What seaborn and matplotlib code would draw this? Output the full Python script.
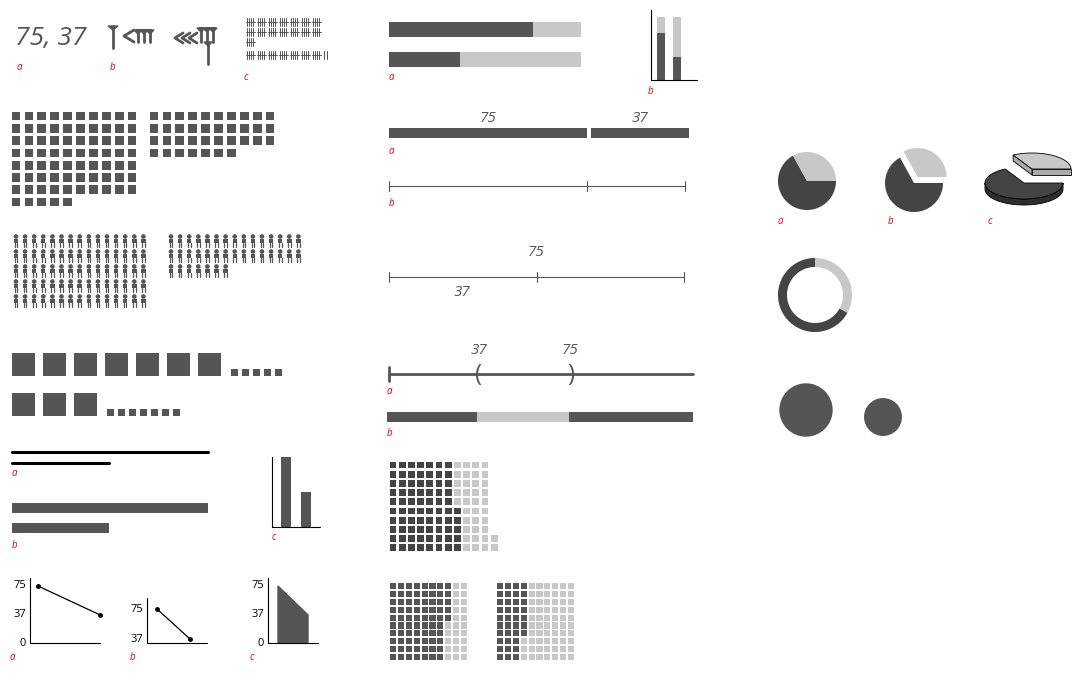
import numpy as np
import pandas as pd
import matplotlib
matplotlib.use("Agg")
import matplotlib.pyplot as plt
from matplotlib.patches import Rectangle, Wedge, Circle, Polygon
import seaborn as sns

# ---- data ----
big = 75
small = 37
values = [big, small]
pct_max = 100
tick_labels_line = ["75", "37", "0"]

sns.set_style("white")
plt.rcParams['font.family'] = ['Open Sans', 'DejaVu Sans']

DARK = "#555555"
DARK2 = "#444444"
LIGHT = "#c8c8c8"
RED = "#e8000b"

fig = plt.figure(figsize=(10.81, 6.79), dpi=100)
ax = fig.add_axes([0, 0, 1, 1])
ax.set_xlim(0, 1081)
ax.set_ylim(679, 0)
ax.axis("off")

def lab(x, y, t):
    ax.text(x, y, t, color=RED, fontsize=7, style="italic", va="center", ha="left")

def rect(x, y, w, h, c=DARK, **kw):
    ax.add_patch(Rectangle((x, y), w, h, facecolor=c, edgecolor="none", **kw))

def grid_scatter(n_items, x0, y0, ncols, dx, dy, size, colors, order="row", nrows=None, bottom_up=False):
    rows = []
    idx = 0
    for ci, (cnt, col) in enumerate(zip(n_items, colors)):
        for k in range(cnt):
            if order == "row":
                r, c = divmod(idx, ncols)
            else:
                c, r = divmod(idx, nrows)
                if bottom_up:
                    r = nrows - 1 - r
            rows.append(dict(x=x0 + c * dx, y=y0 + r * dy, g=ci))
            idx += 1
    df = pd.DataFrame(rows)
    sns.scatterplot(data=df, x="x", y="y", hue="g", palette=dict(enumerate(colors)),
                    marker="s", s=size, linewidth=0, legend=False, ax=ax)

# ---- 1a: numerals ----
ax.text(15, 38, f"{big}, {small}", fontsize=19, style="italic", color=DARK, va="center")
lab(17, 68, "a")

# ---- 1b: cuneiform-ish ----
def vwedge(x, y, h, w=5):
    ax.add_patch(Polygon([(x - w, y), (x + w, y), (x, y + 4)], color=DARK))
    ax.plot([x, x], [y, y + h], color=DARK, lw=2)
vwedge(113, 26, 22)
ax.plot([134, 124, 134], [30, 36, 42], color=DARK, lw=2)
for xx in [138, 144, 150]:
    vwedge(xx, 30, 12, 4)
rect(136, 29, 16, 3)
for xx in [175, 182, 189]:
    ax.plot([xx + 8, xx, xx + 8], [33, 38, 43], color=DARK, lw=2)
for xx in [201, 207, 213]:
    vwedge(xx, 28, 14, 4)
rect(199, 27, 17, 3)
vwedge(208, 42, 22, 4)
lab(110, 68, "b")

# ---- 1c: tallies ----
def tally_rows(x0, y0, groups_per_row, total):
    g5, rem = divmod(total, 5)
    y = y0
    gi = 0
    x = x0
    while gi < g5:
        x = x0
        for k in range(groups_per_row):
            if gi >= g5:
                break
            for j in range(4):
                ax.plot([x + j * 2.0, x + j * 2.0], [y - 4, y + 4], color=DARK, lw=0.7)
            ax.plot([x - 1.5, x + 7.5], [y, y], color=DARK, lw=0.7)
            x += 11
            gi += 1
        if gi < g5:
            y += 10
    if rem:
        for j in range(rem):
            ax.plot([x + j * 2.5, x + j * 2.5], [y - 4, y + 4], color=DARK, lw=0.7)
tally_rows(247, 22, 7, big)
tally_rows(247, 55, 7, small)
lab(244, 77, "c")

# ---- 2: square grids ----
grid_scatter([big], 16, 116, 10, 12.9, 12.3, 40, [DARK])
grid_scatter([small], 154, 116, 10, 12.9, 12.3, 40, [DARK])

# ---- 3: people ----
def people(n, x0, y0, ncols):
    for i in range(n):
        r, c = divmod(i, ncols)
        x = x0 + c * 9.1
        y = y0 + r * 15
        ax.add_patch(Circle((x, y - 3.5), 1.6, color=DARK))
        rect(x - 2.2, y - 1.5, 4.4, 4.5)
        ax.plot([x - 1.3, x - 1.3], [y + 3, y + 7], color=DARK, lw=0.9)
        ax.plot([x + 1.3, x + 1.3], [y + 3, y + 7], color=DARK, lw=0.9)
people(big, 16, 240, 15)
people(small, 171, 240, 15)

# ---- 4: tens and units blocks ----
def blocks(v, x0, y0):
    tens, units = divmod(v, 10)
    x = x0
    for i in range(tens):
        rect(x, y0, 23, 23); x += 31
    x += 2
    for i in range(units):
        rect(x, y0 + 16, 7, 7); x += 11
blocks(big, 12, 353)
blocks(small, 12, 393)

# ---- 5: lines & bars ----
scale = 196 / big
ax.plot([12, 12 + big * scale], [452, 452], color="black", lw=2.2)
ax.plot([12, 12 + small * scale], [463, 463], color="black", lw=2.2)
lab(12, 473, "a")
rect(12, 503, big * scale, 10)
rect(12, 523, small * scale, 10)
lab(12, 546, "b")
vs = 70 / big
ax.plot([272, 272, 320], [457, 527, 527], color="black", lw=0.8)
rect(281, 527 - big * vs, 10, big * vs)
rect(301, 527 - small * vs, 10, small * vs)
lab(272, 537, "c")

# ---- 6: line charts ----
def mini_axes(x0, y_base, y_top_val_px, ticks, tl, w=70):
    ax.plot([x0, x0, x0 + w], [y_top_val_px, y_base, y_base], color="black", lw=0.8)
    for t, s in zip(ticks, tl):
        ax.text(x0 - 4, t, s, fontsize=8, ha="right", va="center", color="black")
ys = 57 / big
mini_axes(30, 643, 578, [643 - big * ys, 643 - small * ys, 643], tick_labels_line)
ax.plot([38, 100], [643 - big * ys, 643 - small * ys], color="black", lw=0.9, marker="o", ms=2.5)
lab(10, 658, "a")
yb = lambda v: 639 - (v - small) * (30 / (big - small))
mini_axes(147, 643, 598, [yb(big), yb(small)], tick_labels_line[:2], w=60)
ax.plot([157, 190], [yb(big), yb(small)], color="black", lw=0.9, marker="o", ms=2.5)
lab(130, 658, "b")
mini_axes(268, 643, 578, [643 - big * ys, 643 - small * ys, 643], tick_labels_line, w=50)
ax.add_patch(Polygon([(278, 643 - big * ys), (308, 643 - small * ys), (308, 643), (278, 643)], color=DARK))
lab(250, 658, "c")

# ---- middle column ----
bw = 192 / pct_max
for y, v in zip([22, 52], values):
    rect(389, y, pct_max * bw, 15, LIGHT)
    rect(389, y, v * bw, 15, DARK)
lab(389, 77, "a")
ax.plot([651, 651, 697], [10, 80, 80], color="black", lw=0.8)
vh = 63 / pct_max
for x, v in zip([657, 673], values):
    rect(x, 17, 8, 63, LIGHT)
    rect(x, 80 - v * vh, 8, v * vh, DARK)
lab(648, 91, "b")

ps = 198 / big
rect(389, 128, big * ps, 10)
rect(389 + big * ps + 4, 128, small * ps, 10)
ax.text(389 + big * ps / 2, 118, str(big), fontsize=11, style="italic", color=DARK, ha="center", va="center")
ax.text(393 + big * ps + small * ps / 2, 118, str(small), fontsize=11, style="italic", color=DARK, ha="center", va="center")
lab(389, 151, "a")
ax.plot([389, 389 + (big + small) * ps], [186, 186], color=DARK, lw=0.8)
for v in [0, big, big + small]:
    ax.plot([389 + v * ps] * 2, [181, 191], color=DARK, lw=0.8)
lab(389, 204, "b")

ns = 295 / (2 * big)
ax.plot([389, 389 + 2 * big * ns], [277, 277], color=DARK, lw=0.8)
for v in [0, big, 2 * big]:
    ax.plot([389 + v * ns] * 2, [272, 282], color=DARK, lw=0.8)
ax.text(389 + big * ns, 253, str(big), fontsize=11, style="italic", color=DARK, ha="center", va="center")
ax.text(389 + small * ns, 293, str(small), fontsize=11, style="italic", color=DARK, ha="center", va="center")

ls = 2.42
ax.plot([389, 693], [374, 374], color=DARK, lw=2)
ax.plot([389, 389], [367, 381], color=DARK, lw=2)
ax.text(389 + small * ls, 375, "(", fontsize=17, color=DARK, ha="center", va="center")
ax.text(389 + big * ls, 375, ")", fontsize=17, color=DARK, ha="center", va="center")
ax.text(389 + small * ls, 350, str(small), fontsize=11, style="italic", color=DARK, ha="center", va="center")
ax.text(389 + big * ls, 350, str(big), fontsize=11, style="italic", color=DARK, ha="center", va="center")
lab(387, 391, "a")
rect(387, 412, 306, 10)
rect(387 + small * ls, 412, (big - small) * ls, 10, LIGHT)
lab(387, 433, "b")

# waffles
grid_scatter([big, small], 393, 465, None, 9.2, 9.2, 24, [DARK2, LIGHT], order="col", nrows=10, bottom_up=True)
grid_scatter([big, pct_max - big], 393, 586, None, 7.9, 7.9, 19, [DARK, LIGHT], order="col", nrows=10)
grid_scatter([small, pct_max - small], 500, 586, None, 7.9, 7.9, 19, [DARK, LIGHT], order="col", nrows=10)

# ---- right column: pies ----
frac = small / (big + small) * 360
for cx, cy, r, ex in [(807, 181, 29, 0), (914, 183, 29, 7)]:
    for th1, th2, c, e in [(frac, 360, DARK2, 0), (0, frac, LIGHT, ex)]:
        a = np.deg2rad((th1 + th2) / 2)
        ox, oy = cx + e * np.cos(a), cy - e * np.sin(a)
        t = np.deg2rad(np.linspace(th1, th2, 60))
        pts = [(ox, oy)] + [(ox + r * np.cos(v), oy - r * np.sin(v)) for v in t]
        ax.add_patch(Polygon(pts, closed=True, color=c, lw=0))
lab(778, 221, "a")
lab(888, 221, "b")

# 3D pie c
cx, cy, rx, ry, hgt = 1024, 183, 39, 16, 6
t = np.deg2rad(np.linspace(frac, 360, 80))
tf = np.deg2rad(np.linspace(180, 360, 60))
side = [(cx + rx * np.cos(v), cy - ry * np.sin(v)) for v in tf] + \
       [(cx + rx * np.cos(v), cy + hgt - ry * np.sin(v)) for v in tf[::-1]]
ax.add_patch(Polygon(side, color="#2f2f2f", ec="black", lw=0.6))
top = [(cx + rx * np.cos(v), cy - ry * np.sin(v)) for v in t]
ax.add_patch(Polygon([(cx, cy)] + top, color=DARK2, ec="black", lw=0.6))
ox, oy = cx + 8, cy - 14
t2 = np.deg2rad(np.linspace(0, frac, 60))
front = [(ox + rx * np.cos(0), oy), (ox + rx * np.cos(0), oy + hgt), (ox, oy + hgt),
         (ox + rx * np.cos(t2[-1]), oy - ry * np.sin(t2[-1]) + hgt),
         (ox + rx * np.cos(t2[-1]), oy - ry * np.sin(t2[-1])), (ox, oy)]
ax.add_patch(Polygon([(ox, oy), (ox, oy + hgt), (ox + rx, oy + hgt), (ox + rx, oy)], color="#aaaaaa", ec="black", lw=0.6))
ax.add_patch(Polygon([(ox, oy), (ox, oy + hgt),
                      (ox + rx * np.cos(t2[-1]), oy - ry * np.sin(t2[-1]) + hgt),
                      (ox + rx * np.cos(t2[-1]), oy - ry * np.sin(t2[-1]))], color="#aaaaaa", ec="black", lw=0.6))
ax.add_patch(Polygon([(ox, oy)] + [(ox + rx * np.cos(v), oy - ry * np.sin(v)) for v in t2], color=LIGHT, ec="black", lw=0.6))
lab(988, 221, "c")

# donut
t = np.deg2rad(np.linspace(90, 90 - frac, 60))
outer = [(815 + 37 * np.cos(v), 295 - 37 * np.sin(v)) for v in t]
inner = [(815 + 28 * np.cos(v), 295 - 28 * np.sin(v)) for v in t[::-1]]
ax.add_patch(Polygon(outer + inner, color=LIGHT, lw=0))
t = np.deg2rad(np.linspace(90 - frac, -270, 120))
outer = [(815 + 37 * np.cos(v), 295 - 37 * np.sin(v)) for v in t]
inner = [(815 + 28 * np.cos(v), 295 - 28 * np.sin(v)) for v in t[::-1]]
ax.add_patch(Polygon(outer + inner, color=DARK2, lw=0))

# area circles
R = 26
ax.add_patch(Circle((806, 410), R, color=DARK))
ax.add_patch(Circle((883, 417), R * np.sqrt(small / big), color=DARK))

fig.savefig("out.png", dpi=100)
